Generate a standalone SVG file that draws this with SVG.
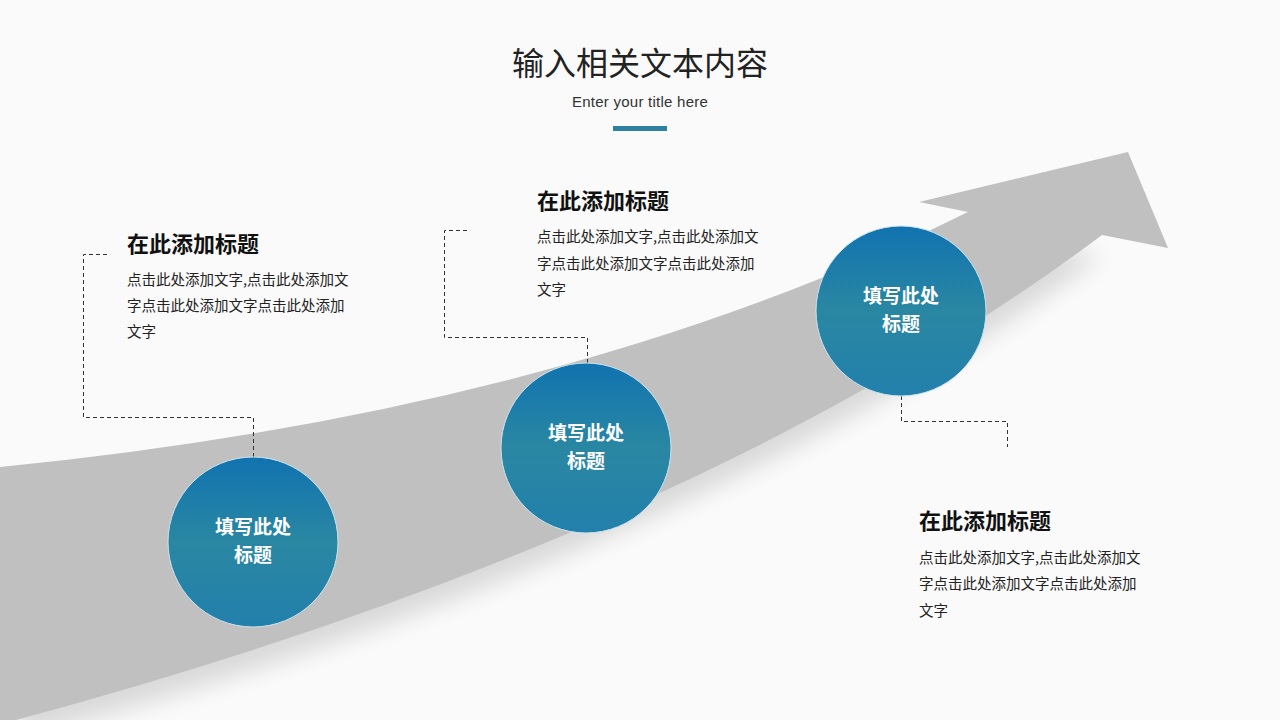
<svg xmlns="http://www.w3.org/2000/svg" width="1280" height="720" viewBox="0 0 1280 720">
<defs>
<linearGradient id="cg" x1="0" y1="0" x2="0" y2="1">
<stop offset="0" stop-color="#1173b0"/>
<stop offset="0.5" stop-color="#2a87a2"/>
<stop offset="1" stop-color="#2280ac"/>
</linearGradient>
<filter id="blur" x="-20%" y="-20%" width="140%" height="140%"><feGaussianBlur stdDeviation="12"/></filter>
<style>
.ttl{font-family:"Noto Sans CJK SC","Noto Sans",sans-serif;font-weight:700;font-size:22px;fill:#111}
.body{font-family:"Noto Sans CJK SC","Noto Sans",sans-serif;font-size:14.5px;fill:#222}
.ct{font-family:"Noto Sans CJK SC","Noto Sans",sans-serif;font-weight:700;font-size:19px;fill:#fff;text-anchor:middle}
.dash{fill:none;stroke:#333;stroke-width:1;stroke-dasharray:4 3}
.circ{fill:url(#cg);stroke:#cfe3ec;stroke-width:1}
</style>
</defs>
<rect width="1280" height="720" fill="#fafafa"/>
<g id="arrow">
<path d="M0,500 Q572,440 990,240 L1102,255 Q702,555 16,740 Z" fill="#000" opacity="0.13" filter="url(#blur)"/>
<path d="M0,467 Q572,410 968,212 L919,202 L1128,152 L1168,248 L1102,235 Q702,535 16,720 L0,720 Z" fill="#c0c0c0"/>
</g>
<g id="header">
<text x="640" y="75" text-anchor="middle" font-family="Noto Sans CJK SC,sans-serif" font-size="32" fill="#222">输入相关文本内容</text>
<text x="640" y="107" text-anchor="middle" font-family="Liberation Sans,Arial,sans-serif" font-size="15" letter-spacing="0.25" fill="#333">Enter your title here</text>
<rect x="613" y="126" width="54" height="5" fill="#2e82a0"/>
</g>
<g id="connectors">
<path class="dash" d="M107,254.5 H83.5 V417.5 H253.5 V457"/>
<path class="dash" d="M467,230.5 H444.5 V337.5 H587.5 V363"/>
<path class="dash" d="M901.5,396 V421.5 H1007.5 V447"/>
</g>
<g id="node1">
<circle class="circ" cx="253" cy="542" r="85"/>
<text class="ct" x="253" y="534">填写此处</text>
<text class="ct" x="253" y="562">标题</text>
</g>
<g id="node2">
<circle class="circ" cx="586" cy="448" r="85"/>
<text class="ct" x="586" y="440">填写此处</text>
<text class="ct" x="586" y="468">标题</text>
</g>
<g id="node3">
<circle class="circ" cx="901" cy="311" r="85"/>
<text class="ct" x="901" y="303">填写此处</text>
<text class="ct" x="901" y="331">标题</text>
</g>
<g id="text1">
<text class="ttl" x="127" y="252">在此添加标题</text>
<text class="body" x="127" y="285">点击此处添加文字,点击此处添加文</text>
<text class="body" x="127" y="311">字点击此处添加文字点击此处添加</text>
<text class="body" x="127" y="337">文字</text>
</g>
<g id="text2">
<text class="ttl" x="537" y="209">在此添加标题</text>
<text class="body" x="537" y="242">点击此处添加文字,点击此处添加文</text>
<text class="body" x="537" y="269">字点击此处添加文字点击此处添加</text>
<text class="body" x="537" y="295">文字</text>
</g>
<g id="text3">
<text class="ttl" x="919" y="529">在此添加标题</text>
<text class="body" x="919" y="563">点击此处添加文字,点击此处添加文</text>
<text class="body" x="919" y="589">字点击此处添加文字点击此处添加</text>
<text class="body" x="919" y="616">文字</text>
</g>
</svg>
